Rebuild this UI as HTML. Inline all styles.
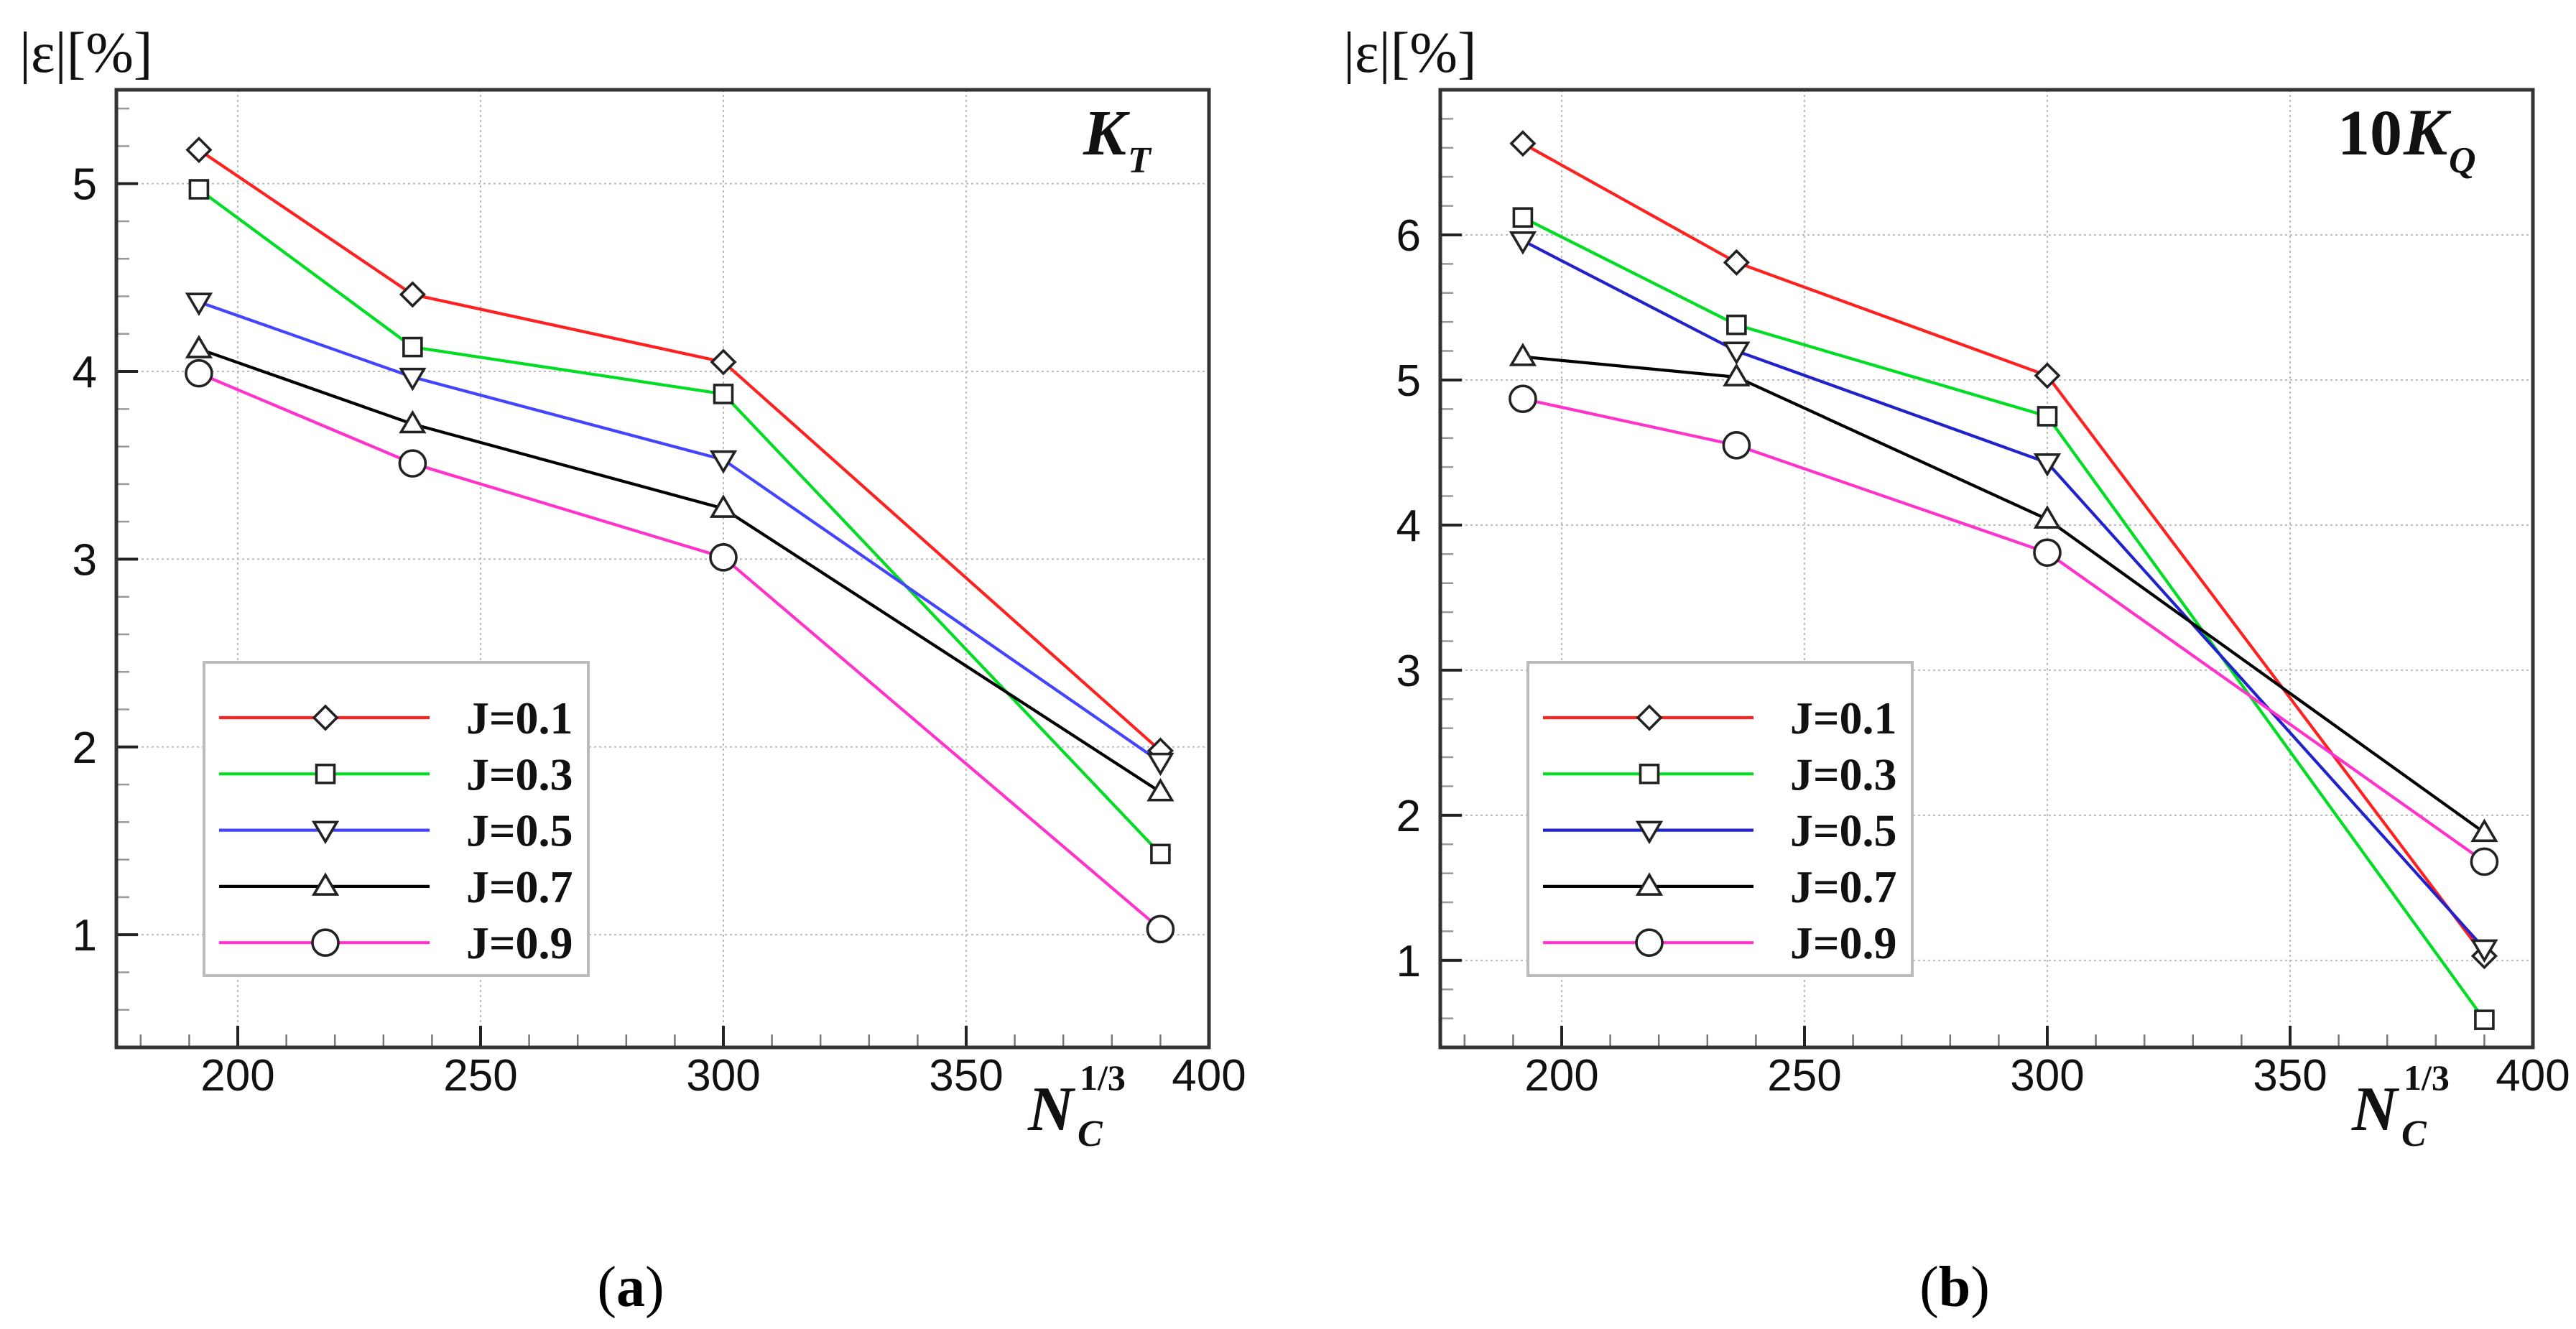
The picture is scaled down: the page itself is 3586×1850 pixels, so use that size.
<!DOCTYPE html>
<html><head><meta charset="utf-8"><style>
html,body{margin:0;padding:0;background:#fff;}
svg{display:block;}
</style></head><body>
<svg id="fig" width="3586" height="1850" viewBox="0 0 3586 1850" xmlns="http://www.w3.org/2000/svg"></svg>
<script>
const xCats = [192, 236, 300, 390];
const seriesLabels = ["J=0.1", "J=0.3", "J=0.5", "J=0.7", "J=0.9"];
const seriesColors = ["#ff2020", "#00dd22", "#4444ff", "#000000", "#ff33cc"];
const seriesColorsB = ["#ff2020", "#00dd22", "#2222cc", "#000000", "#ff33cc"];
const seriesMarkers = ["diamond", "square", "tridown", "triup", "circle"];
const kt01 = [5.18, 4.41, 4.05, 1.98];
const kt03 = [4.97, 4.13, 3.88, 1.43];
const kt05 = [4.37, 3.97, 3.53, 1.92];
const kt07 = [4.12, 3.72, 3.27, 1.76];
const kt09 = [3.99, 3.51, 3.01, 1.03];
const kq01 = [6.63, 5.81, 5.03, 1.03];
const kq03 = [6.12, 5.38, 4.75, 0.59];
const kq05 = [5.96, 5.20, 4.43, 1.08];
const kq07 = [5.16, 5.02, 4.04, 1.88];
const kq09 = [4.87, 4.55, 3.81, 1.68];
const xTicks = [200, 250, 300, 350, 400];
const yTicksA = [1, 2, 3, 4, 5];
const yTicksB = [1, 2, 3, 4, 5, 6];

const NS = "http://www.w3.org/2000/svg";
const svg = document.getElementById("fig");
function mk(tag, attrs, parent) {
  const e = document.createElementNS(NS, tag);
  for (const k in attrs) e.setAttribute(k, attrs[k]);
  (parent || svg).appendChild(e);
  return e;
}
function marker(g, type, cx, cy, color) {
  let e;
  const sw = 3.6;
  if (type === "diamond") {
    const r = 16;
    e = mk("polygon", {points: `${cx},${cy-r} ${cx+r},${cy} ${cx},${cy+r} ${cx-r},${cy}`, fill: "#fff", stroke: "#222", "stroke-width": sw}, g);
  } else if (type === "square") {
    const r = 12.5;
    e = mk("rect", {x: cx-r, y: cy-r, width: 2*r, height: 2*r, fill: "#fff", stroke: "#222", "stroke-width": sw}, g);
  } else if (type === "tridown") {
    const r = 16;
    e = mk("polygon", {points: `${cx-r},${cy-r*0.7} ${cx+r},${cy-r*0.7} ${cx},${cy+r}`, fill: "#fff", stroke: "#222", "stroke-width": sw}, g);
  } else if (type === "triup") {
    const r = 16;
    e = mk("polygon", {points: `${cx-r},${cy+r*0.7} ${cx+r},${cy+r*0.7} ${cx},${cy-r}`, fill: "#fff", stroke: "#222", "stroke-width": sw}, g);
  } else {
    e = mk("circle", {cx: cx, cy: cy, r: 18, fill: "#fff", stroke: "#222", "stroke-width": sw}, g);
  }
  
  
  return e;
}

function panel(cfg) {
  const {L, R, T, B, ymin, ymax, series, colors, yTicks, tag} = cfg;
  const xs = v => L + (v - 175) / 225 * (R - L);
  const ys = v => B - (v - ymin) / (ymax - ymin) * (B - T);
  const g = mk("g", {});
  
  
  const grid = mk("g", {}, g);
  
  
  xTicks.forEach(v => { if (v < 400) mk("line", {x1: xs(v), x2: xs(v), y1: T, y2: B, stroke: "#bbb", "stroke-width": 2, "stroke-dasharray": "3,4"}, grid); });
  yTicks.forEach(v => mk("line", {x1: L, x2: R, y1: ys(v), y2: ys(v), stroke: "#bbb", "stroke-width": 2, "stroke-dasharray": "3,4"}, grid));
  const ticks = mk("g", {stroke: "#222"}, g);
  
  
  for (let v = 180; v < 400; v += 10) {
    const major = v % 50 === 0;
    mk("line", {x1: xs(v), x2: xs(v), y1: B, y2: B - (major ? 30 : 18), "stroke-width": major ? 4 : 2.5, stroke: major ? "#222" : "#777"}, ticks);
  }
  for (let k = Math.ceil(ymin / 0.2 - 1e-6); k * 0.2 < ymax - 1e-6; k++) {
    const v = k * 0.2;
    const major = Math.abs(v - Math.round(v)) < 1e-6;
    mk("line", {x1: L, x2: L + (major ? 30 : 18), y1: ys(v), y2: ys(v), "stroke-width": major ? 4 : 2.5, stroke: major ? "#222" : "#999"}, ticks);
  }
  const xl = mk("g", {"font-family": "Liberation Sans, sans-serif", "font-size": 62, "text-anchor": "middle", fill: "#111"}, g);
  
  
  xTicks.forEach(v => { const t = mk("text", {x: xs(v), y: 1518}, xl); t.textContent = v; });
  const yl = mk("g", {"font-family": "Liberation Sans, sans-serif", "font-size": 62, "text-anchor": "end", fill: "#111"}, g);
  
  
  yTicks.forEach(v => { const t = mk("text", {x: L - 27, y: ys(v) + 22}, yl); t.textContent = v; });
  series.forEach((vals, i) => {
    const sg = mk("g", {}, g);
    
    
    const pts = vals.map((v, j) => xs(xCats[j]) + "," + ys(v)).join(" ");
    const pl = mk("polyline", {points: pts, fill: "none", stroke: colors[i], "stroke-width": 4.2}, sg);
    
    
    vals.forEach((v, j) => marker(sg, seriesMarkers[i], xs(xCats[j]), ys(v), colors[i]));
  });
  const fr = mk("rect", {x: L, y: T, width: R - L, height: B - T, fill: "none", stroke: "#333", "stroke-width": 5}, g);
  
  
  const lg = mk("g", {}, g);
  
  
  const lx = L + 122;
  const lb = mk("rect", {x: lx, y: 922, width: 535, height: 436, fill: "#fff", stroke: "#bbb", "stroke-width": 4}, lg);
  
  
  seriesLabels.forEach((lab, i) => {
    const y = 999 + i * 78.3;
    const eg = mk("g", {}, lg);
    
    
    mk("line", {x1: lx + 21, x2: lx + 314, y1: y, y2: y, stroke: colors[i], "stroke-width": 4.2}, eg);
    marker(eg, seriesMarkers[i], lx + 169, y, colors[i]);
    const t = mk("text", {x: lx + 365, y: y + 22, "font-family": "Liberation Serif, serif", "font-weight": "bold", "font-size": 64, fill: "#111"}, eg);
    t.textContent = lab;
  });
  const yt = mk("text", {x: L - 135, y: 100, "font-family": "Liberation Serif, serif", "font-size": 80, fill: "#111"}, g);
  
  
  yt.textContent = "|ε|[%]";
  const xt = mk("g", {"font-family": "Liberation Serif, serif", "font-weight": "bold", fill: "#111"}, g);
  
  
  const n = mk("text", {x: R - 252, y: 1573, "font-size": 88, "font-style": "italic"}, xt); n.textContent = "N";
  const c = mk("text", {x: R - 183, y: 1595, "font-size": 52, "font-style": "italic"}, xt); c.textContent = "C";
  const p = mk("text", {x: R - 180, y: 1517, "font-size": 50}, xt); p.textContent = "1/3";
  return {xs, ys};
}

panel({L: 162, R: 1683, T: 125, B: 1458, ymin: 0.4, ymax: 5.5, series: [kt01, kt03, kt05, kt07, kt09], colors: seriesColors, yTicks: yTicksA, tag: "a"});
panel({L: 2005, R: 3526, T: 125, B: 1458, ymin: 0.4, ymax: 7.0, series: [kq01, kq03, kq05, kq07, kq09], colors: seriesColorsB, yTicks: yTicksB, tag: "b"});

const t1 = mk("g", {"font-family": "Liberation Serif, serif", "font-weight": "bold", fill: "#111"});


let e = mk("text", {x: 1508, y: 215, "font-size": 90, "font-style": "italic"}, t1); e.textContent = "K";
e = mk("text", {x: 1570, y: 240, "font-size": 52, "font-style": "italic"}, t1); e.textContent = "T";
const t2 = mk("g", {"font-family": "Liberation Serif, serif", "font-weight": "bold", fill: "#111"});


e = mk("text", {x: 3254, y: 215, "font-size": 90}, t2); e.textContent = "10";
e = mk("text", {x: 3346, y: 215, "font-size": 92, "font-style": "italic"}, t2); e.textContent = "K";
e = mk("text", {x: 3409, y: 240, "font-size": 52, "font-style": "italic"}, t2); e.textContent = "Q";

[["(", "a", ")", 878, "caption-a"], ["(", "b", ")", 2721, "caption-b"]].forEach(c => {
  const t = mk("text", {x: c[3], y: 1818, "font-family": "Liberation Serif, serif", "font-size": 80, "text-anchor": "middle", fill: "#000"});
  
  
  const s1 = mk("tspan", {}, t); s1.textContent = c[0];
  const s2 = mk("tspan", {"font-weight": "bold"}, t); s2.textContent = c[1];
  const s3 = mk("tspan", {}, t); s3.textContent = c[2];
});
</script>
</body></html>
